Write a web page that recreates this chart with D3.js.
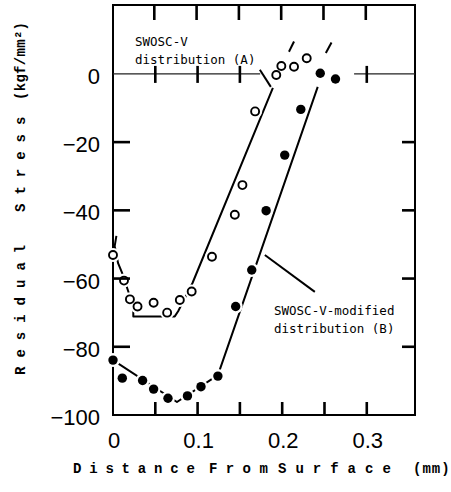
<!DOCTYPE html>
<html><head><meta charset="utf-8">
<script src="https://cdn.jsdelivr.net/npm/d3@7"></script>
<style>body{margin:0;background:#fff}</style>
</head><body><svg id="c" width="451" height="492"></svg>
<script>
// ---- data ----
const openX = [0, 0.013, 0.020, 0.029, 0.048, 0.064, 0.079, 0.093, 0.117, 0.144, 0.153, 0.168, 0.193, 0.199, 0.214, 0.229];
const openY = [-53.1, -60.6, -66.1, -68.2, -67.1, -70.0, -66.3, -63.8, -53.6, -41.3, -32.6, -11.0, -0.3, 2.3, 2.1, 4.6];
const filledX = [0, 0.011, 0.035, 0.048, 0.065, 0.088, 0.104, 0.124, 0.145, 0.164, 0.181, 0.203, 0.222, 0.245, 0.263];
const filledY = [-83.9, -89.2, -89.9, -92.4, -95.1, -94.4, -91.7, -88.6, -68.2, -57.5, -40.1, -23.8, -10.4, 0.2, -1.5];
const curveAX = [0.004, 0.002, 0.006, 0.011, 0.024, 0.024, 0.073, 0.077, 0.094, 0.189];
const curveAY = [-47.5, -50.5, -55.5, -58.5, -68.2, -71.1, -71.1, -69.6, -61.3, -4.1];
const curveBX = [0, 0.0756, 0.124, 0.242];
const curveBY = [-83.9, -96.2, -88.3, -3.8];
const extAX = [0.208, 0.214], extAY = [6.5, 9.5];
const extBX = [0.2516, 0.2583], extBY = [6.1, 9.2];
const xTickValues = [0, 0.1, 0.2, 0.3];
const xTickLabels = ["0", "0.1", "0.2", "0.3"];
const xMinorTicks = [0.05, 0.1, 0.15, 0.2, 0.25, 0.3];
const zeroLineTicks = [0.05, 0.1, 0.15, 0.3];
const yTickValues = [0, -20, -40, -60, -80, -100];
const yTickLabels = ["0", "\u221220", "\u221240", "\u221260", "\u221280", "\u2212100"];
const yInnerTicks = [-20, -40, -60, -80];
const zeroSegments = [[0, 0.174], [0.285, 0.357]];
const labelA = ["SWOSC-V", "distribution (A)"];
const labelB = ["SWOSC-V-modified", "distribution (B)"];
const leaderA = [[0.1736, 1.2], [0.1866, -3.8]];
const leaderB = [[0.1795, -53.1], [0.2386, -63.9]];

// ---- chart ----
const svg = d3.select("#c");
const x = d3.scaleLinear().domain([0, 0.357]).range([113, 415]);
const y = d3.scaleLinear().domain([-100, 20.2]).range([415, 5]);
const L = 113, R = 415, T = 5, B = 415;
const line = d3.line().x(d => x(d[0])).y(d => y(d[1]));
const zip = (a, b) => a.map((v, i) => [v, b[i]]);

// frame
svg.append("rect").attr("x", L).attr("y", T).attr("width", R - L).attr("height", B - T)
  .attr("fill", "none").attr("stroke", "#000").attr("stroke-width", 2);

// zero line
zeroSegments.forEach(s => svg.append("path")
  .attr("d", line([[s[0], 0], [s[1], 0]])).attr("fill", "none")
  .attr("stroke", "#222").attr("stroke-width", 1.3));

// tick labels
yTickValues.forEach((d, i) => svg.append("text")
  .attr("x", 100).attr("y", y(d) + 10).attr("text-anchor", "end")
  .attr("font-family", "Liberation Sans, Arial, sans-serif").attr("font-size", 22)
  .text(yTickLabels[i]));
xTickValues.forEach((d, i) => svg.append("text")
  .attr("x", x(d) + 1).attr("y", 448).attr("text-anchor", "middle")
  .attr("font-family", "Liberation Sans, Arial, sans-serif").attr("font-size", 22)
  .text(xTickLabels[i]));

// axis titles
const titleFont = "Liberation Mono, Courier New, monospace";
function spaced(g, txt, ls) {
  return g.append("text").attr("font-family", titleFont).attr("font-weight", "bold")
    .attr("font-size", 14).attr("letter-spacing", ls).text(txt);
}
[["Distance", 73, 7.8], ["From", 209, 8.4], ["Surface", 278, 9.0], ["(mm)", 413, 1]].forEach(w => {
  spaced(svg, w[0], w[2]).attr("x", w[1]).attr("y", 473);
});
[["Residual", 375, 9.0], ["Stress", 212, 9.0], ["(kgf/mm\u00b2)", 100, 0.3]].forEach(w => {
  spaced(svg.append("g").attr("transform", `translate(25,${w[1]}) rotate(-90)`), w[0], w[2]);
});

// fitted lines
const lineStyle = s => s.attr("fill", "none").attr("stroke", "#000").attr("stroke-width", 2)
  .attr("stroke-linejoin", "round");
[zip(curveAX, curveAY), zip(curveBX, curveBY), zip(extAX, extAY), zip(extBX, extBY), leaderA, leaderB]
  .forEach(p => lineStyle(svg.append("path").attr("d", line(p))));

// markers with white halo
const openPts = zip(openX, openY), filledPts = zip(filledX, filledY);
openPts.concat(filledPts).forEach(d => svg.append("circle")
  .attr("cx", x(d[0])).attr("cy", y(d[1])).attr("r", 7).attr("fill", "#fff"));
openPts.forEach(d => svg.append("circle")
  .attr("cx", x(d[0])).attr("cy", y(d[1])).attr("r", 4)
  .attr("fill", "#fff").attr("stroke", "#000").attr("stroke-width", 1.9));
filledPts.forEach(d => svg.append("circle")
  .attr("cx", x(d[0])).attr("cy", y(d[1])).attr("r", 4.7).attr("fill", "#000"));

// annotations
const annFont = "DejaVu Sans Mono, monospace";
labelA.forEach((t, i) => svg.append("text").attr("x", 135).attr("y", 46 + i * 18)
  .attr("font-family", annFont).attr("font-size", 12.5).text(t));
labelB.forEach((t, i) => svg.append("text").attr("x", 274).attr("y", 315 + i * 18)
  .attr("font-family", annFont).attr("font-size", 12.5).text(t));

// ticks (inward), drawn last so nothing covers them
const ticks = svg.append("g").attr("stroke", "#000").attr("stroke-width", 2.6);
function seg(x1, y1, x2, y2) {
  ticks.append("line").attr("x1", x1).attr("y1", y1).attr("x2", x2).attr("y2", y2);
}
xMinorTicks.forEach(d => seg(x(d) - 1, T, x(d) - 1, T + 15));
xMinorTicks.forEach(d => seg(x(d), B, x(d), B - 13));
zeroLineTicks.forEach(d => seg(x(d), y(0) - 8, x(d), y(0) + 9));
yInnerTicks.forEach(d => seg(L, y(d), L + 17, y(d)));
yInnerTicks.forEach(d => seg(R - 13, y(d), R, y(d)));
</script></body></html>
